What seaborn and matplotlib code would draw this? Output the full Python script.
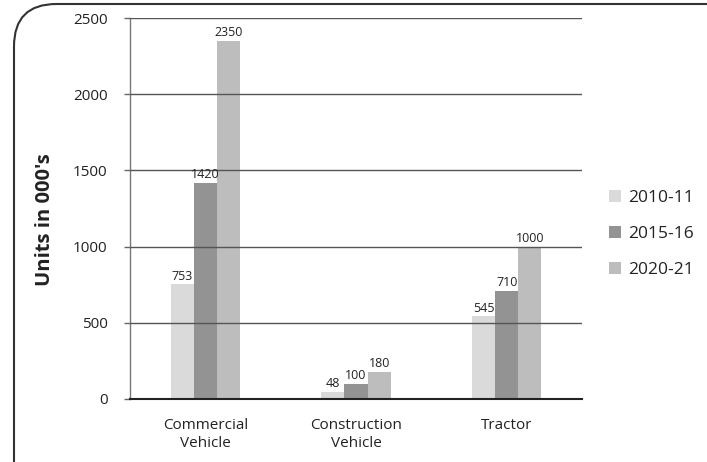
import matplotlib
matplotlib.use("Agg")
import matplotlib.pyplot as plt
from matplotlib.patches import FancyBboxPatch
import seaborn as sns
import pandas as pd

categories = ["Commercial\nVehicle", "Construction\nVehicle", "Tractor"]
series = ["2010-11", "2015-16", "2020-21"]
v_2010 = [753, 48, 545]
v_2015 = [1420, 100, 710]
v_2020 = [2350, 180, 1000]
colors = ["#dadada", "#939393", "#bdbdbd"]
yticks = [0, 500, 1000, 1500, 2000, 2500]

rows = []
for s, vals in zip(series, [v_2010, v_2015, v_2020]):
    for c, v in zip(categories, vals):
        rows.append({"cat": c, "year": s, "val": v})
df = pd.DataFrame(rows)

sns.set_theme(style="white")
plt.rcParams["font.family"] = ["Open Sans", "DejaVu Sans"]

W, H = 707, 462
fig = plt.figure(figsize=(W / 100, H / 100), dpi=100)
ax = fig.add_axes([130 / W, 1 - 399 / H, (582 - 130) / W, (399 - 18) / H])

sns.barplot(data=df, x="cat", y="val", hue="year", palette=colors,
            width=0.46, ax=ax, saturation=1, legend=True, zorder=2,
            linewidth=0, edgecolor="none")

for cont in ax.containers:
    ax.bar_label(cont, fmt="%d", fontsize=9, color="#222222", padding=1)

ax.set_ylim(0, 2500)
ax.set_yticks(yticks)
ax.set_yticklabels([str(t) for t in yticks], fontsize=11, color="#222222")
ax.set_xlabel("")
ax.set_ylabel("Units in 000's", fontsize=14.5, fontweight="bold", color="#222222")
ax.yaxis.set_label_coords(-0.165, 0.47)
ax.tick_params(axis="x", length=0, labelsize=11, colors="#222222", pad=14)
ax.tick_params(axis="y", left=True, length=4, width=1, color="#666666", pad=12)

ax.yaxis.grid(True, color="#555555", linewidth=1)
ax.set_axisbelow(False)
for line in ax.get_ygridlines():
    line.set_zorder(3)

for side in ["top", "right"]:
    ax.spines[side].set_visible(False)
ax.spines["left"].set_color("#777777")
ax.spines["left"].set_linewidth(1)
ax.spines["bottom"].set_color("#222222")
ax.spines["bottom"].set_linewidth(1.5)
ax.spines["bottom"].set_zorder(4)

leg = ax.legend(loc="center left", bbox_to_anchor=(609 / W, 1 - 234 / H),
                bbox_transform=fig.transFigure, frameon=False, fontsize=12.5,
                handlelength=0.7, handleheight=0.7, handletextpad=0.4,
                labelspacing=1.15, borderaxespad=0, borderpad=0)
for t in leg.get_texts():
    t.set_color("#222222")

border = FancyBboxPatch((14 / W, -0.2), 1.2, 1 - 4 / H + 0.2,
                        boxstyle="round,pad=0,rounding_size=0.06",
                        transform=fig.transFigure, fill=False,
                        edgecolor="#333333", linewidth=1.5, mutation_aspect=W / H)
fig.patches.append(border)

fig.savefig("out.png", dpi=100)
